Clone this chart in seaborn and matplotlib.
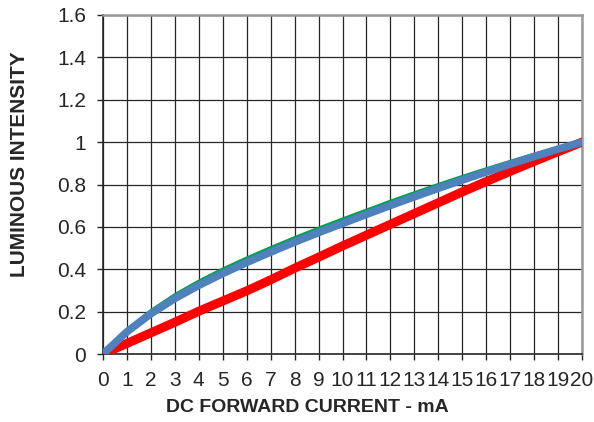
import numpy as np
import pandas as pd
import matplotlib
matplotlib.use("Agg")
import matplotlib.pyplot as plt
import seaborn as sns

current_ma = [0, 1, 2, 3, 4, 5, 6, 7, 8, 9, 10, 11, 12, 13, 14, 15, 16, 17, 18, 19, 20]
red_vals = [0, 0.05, 0.10, 0.15, 0.202, 0.25, 0.298, 0.35, 0.405, 0.457, 0.51,
            0.561, 0.612, 0.663, 0.714, 0.765, 0.814, 0.862, 0.909, 0.955, 1.0]
green_vals = [0, 0.117, 0.206, 0.281, 0.345, 0.402, 0.454, 0.503, 0.55, 0.595, 0.638,
              0.68, 0.722, 0.762, 0.801, 0.839, 0.875, 0.91, 0.944, 0.975, 1.0]
blue_vals = [0, 0.105, 0.19, 0.262, 0.324, 0.38, 0.432, 0.481, 0.528, 0.573, 0.616,
             0.659, 0.701, 0.742, 0.782, 0.821, 0.859, 0.896, 0.932, 0.967, 1.0]
x_ticks = list(range(0, 21))
y_ticks = [0, 0.2, 0.4, 0.6, 0.8, 1, 1.2, 1.4, 1.6]
y_tick_labels = ["0", "0.2", "0.4", "0.6", "0.8", "1", "1.2", "1.4", "1.6"]

sns.set_style("white")
plt.rcParams['font.family'] = ['Liberation Sans', 'DejaVu Sans']

fig = plt.figure(figsize=(5.94, 4.22), dpi=100)
ax = fig.add_axes([103/594, 1-354/422, (582-103)/594, (354-15)/422])

df = pd.DataFrame({"x": current_ma, "red": red_vals, "green": green_vals, "blue": blue_vals})
sns.lineplot(data=df, x="x", y="red", ax=ax, color="#ff0000", lw=6.5, zorder=3)
sns.lineplot(data=df, x="x", y="green", ax=ax, color="#00a050", lw=2.0, zorder=4)
sns.lineplot(data=df, x="x", y="blue", ax=ax, color="#4f81bd", lw=5.5, zorder=5)

ax.set_xlim(0, 20)
ax.set_ylim(0, 1.6)
ax.set_xticks(x_ticks)
ax.set_xticklabels([str(t) for t in x_ticks])
ax.set_yticks(y_ticks)
ax.set_yticklabels(y_tick_labels)
ax.grid(True, color="#262626", lw=0.9)
ax.set_axisbelow(True)
for s in ["left", "bottom"]:
    ax.spines[s].set_color("#262626")
    ax.spines[s].set_linewidth(1.2)
for s in ["top", "right"]:
    ax.spines[s].set_color("#999999")
    ax.spines[s].set_linewidth(1.8)
ax.tick_params(axis="both", direction="out", length=4.5, width=1.0, color="#262626",
               labelsize=15, left=True, bottom=True)
ax.tick_params(axis="x", pad=7.5)
ax.tick_params(axis="y", pad=7.5)
ax.set_xlabel("DC FORWARD CURRENT - mA", fontsize=14, fontweight="bold")
ax.set_ylabel("LUMINOUS INTENSITY", fontsize=15, fontweight="bold")
ax.xaxis.label.set_va("center")
ax.yaxis.label.set_va("center")
ax.xaxis.set_label_coords(0.426, -0.157)
ax.yaxis.set_label_coords(-0.175, 0.56)

fig.savefig("out.png", dpi=100)
